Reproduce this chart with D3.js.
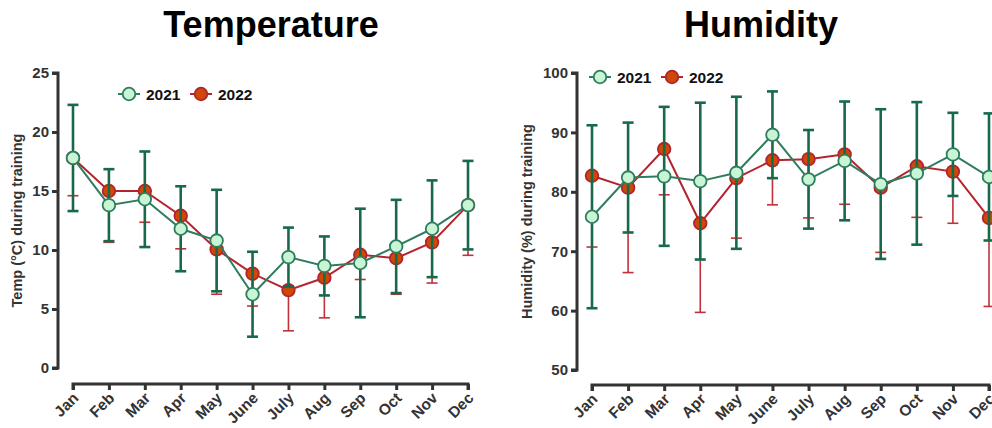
<!DOCTYPE html>
<html>
<head>
<meta charset="utf-8">
<script src="https://cdn.jsdelivr.net/npm/d3@7"></script>
<style>
  html, body { margin: 0; padding: 0; background: #fff; }
  svg { display: block; font-family: Arial, "Liberation Sans", sans-serif; }
</style>
</head>
<body>
<svg id="chart" width="992" height="428"></svg>
<script>
// Monthly conditions during training, mean and SD per month
const months = ["Jan","Feb","Mar","Apr","May","June","July","Aug","Sep","Oct","Nov","Dec"];
const years = ["2021", "2022"];

const temp2021Mean = [17.8, 13.8, 14.3, 11.8, 10.8, 6.25, 9.4, 8.65, 8.9, 10.3, 11.8, 13.8];
const temp2021SD   = [4.5, 3.05, 4.05, 3.6, 4.3, 3.6, 2.5, 2.5, 4.6, 3.95, 4.1, 3.75];
const temp2022Mean = [17.8, 15.0, 15.0, 12.9, 10.05, 8.0, 6.6, 7.65, 9.6, 9.3, 10.65, 13.8];
const temp2022SD   = [3.2, 4.35, 2.65, 2.8, 3.8, 2.75, 3.45, 3.4, 2.1, 3.05, 3.45, 4.25];

const hum2021Mean = [75.8, 82.4, 82.6, 81.8, 83.2, 89.6, 82.1, 85.2, 81.3, 83.1, 86.3, 82.5];
const hum2021SD   = [15.4, 9.25, 11.7, 13.2, 12.8, 7.3, 8.3, 10.0, 12.6, 12.0, 7.0, 10.7];
const hum2022Mean = [82.7, 80.7, 87.2, 74.7, 82.3, 85.3, 85.5, 86.3, 80.7, 84.3, 83.4, 75.6];
const hum2022SD   = [12.0, 14.3, 7.7, 15.0, 10.1, 7.5, 9.9, 8.4, 10.9, 8.6, 8.7, 14.9];

const tempTicks = [0, 5, 10, 15, 20, 25];
const humTicks = [50, 60, 70, 80, 90, 100];

const style = {
  green: { line: "#2f7d5f", bar: "#17694a", fill: "#c8f5d3", stroke: "#2f7d5f", barWidth: 2.6 },
  red:   { line: "#b3242e", bar: "#c0313b", fill: "#cc4a06", stroke: "#b3242e", barWidth: 1.6 }
};
const axisColor = "#333";
const svg = d3.select("#chart");

function panel(cfg) {
  const g = svg.append("g");
  const x = d3.scalePoint().domain(months).range(cfg.xRange);
  const y = d3.scaleLinear().domain(cfg.yDomain).range(cfg.yRange);

  // Title
  g.append("text")
    .attr("x", cfg.titleX).attr("y", 37)
    .attr("text-anchor", "middle")
    .attr("font-size", 36).attr("font-weight", "bold")
    .attr("fill", "#000")
    .text(cfg.title);

  // Y axis
  const yAxis = g.append("g")
    .attr("transform", `translate(${cfg.yAxisX},0)`)
    .call(d3.axisLeft(y).tickValues(cfg.ticks).tickSize(6).tickPadding(3));
  // X axis, offset below the plot
  const xAxis = g.append("g")
    .attr("transform", `translate(0,${cfg.xAxisY})`)
    .call(d3.axisBottom(x).tickSize(6).tickPadding(4));

  [yAxis, xAxis].forEach(a => {
    a.select(".domain").attr("stroke", axisColor).attr("stroke-width", 3);
    a.selectAll(".tick line").attr("stroke", axisColor).attr("stroke-width", 3);
    a.selectAll(".tick text")
      .attr("fill", axisColor).attr("font-size", 15).attr("font-weight", "bold");
  });
  yAxis.select(".domain").attr("d", `M-6,${y(cfg.yDomain[1])}H0V${y(cfg.yDomain[0])}H-6`);
  xAxis.select(".domain").attr("d", `M${cfg.xRange[0]},6V0H${cfg.xRange[1]}V6`);
  xAxis.selectAll(".tick text")
    .attr("font-size", 15.5)
    .attr("text-anchor", "end")
    .attr("dy", null)
    .attr("transform", "translate(6,15) rotate(-45)")
    .attr("y", 0).attr("x", 0);

  // Y axis title
  g.append("text")
    .attr("transform", `translate(${cfg.yLabelX},${(cfg.yRange[0] + cfg.yRange[1]) / 2}) rotate(-90)`)
    .attr("text-anchor", "middle")
    .attr("font-size", 14.5).attr("font-weight", "bold")
    .attr("fill", axisColor)
    .text(cfg.yLabel);

  const line = d3.line().x((d, i) => x(months[i])).y(d => y(d));
  const capHalf = 5.5;

  function errorBars(means, sds, st, both) {
    const eg = g.append("g").attr("stroke", st.bar).attr("stroke-width", st.barWidth);
    means.forEach((m, i) => {
      const cx = x(months[i]);
      const lo = y(m - sds[i]);
      const hi = both ? y(m + sds[i]) : y(m);
      eg.append("line").attr("x1", cx).attr("x2", cx).attr("y1", hi).attr("y2", lo);
      eg.append("line").attr("x1", cx - capHalf).attr("x2", cx + capHalf).attr("y1", lo).attr("y2", lo);
      if (both) eg.append("line").attr("x1", cx - capHalf).attr("x2", cx + capHalf).attr("y1", hi).attr("y2", hi);
    });
  }
  function series(means, st) {
    g.append("path").datum(means).attr("d", line)
      .attr("fill", "none").attr("stroke", st.line).attr("stroke-width", 2);
    g.append("g").selectAll("circle").data(means).join("circle")
      .attr("cx", (d, i) => x(months[i])).attr("cy", d => y(d)).attr("r", 6.3)
      .attr("fill", st.fill).attr("stroke", st.stroke).attr("stroke-width", 1.8);
  }

  // 2022 below-only error bars, then 2021 full error bars on top
  errorBars(cfg.m2022, cfg.s2022, style.red, false);
  series(cfg.m2022, style.red);
  errorBars(cfg.m2021, cfg.s2021, style.green, true);
  series(cfg.m2021, style.green);

  // Legend
  const lg = g.append("g");
  const items = [
    { name: years[0], st: style.green, x: cfg.legend[0] },
    { name: years[1], st: style.red, x: cfg.legend[0] + cfg.legendGap }
  ];
  items.forEach(it => {
    lg.append("line")
      .attr("x1", it.x - 11).attr("x2", it.x + 11)
      .attr("y1", cfg.legend[1]).attr("y2", cfg.legend[1])
      .attr("stroke", it.st.line).attr("stroke-width", 2);
    lg.append("circle")
      .attr("cx", it.x).attr("cy", cfg.legend[1]).attr("r", 6.3)
      .attr("fill", it.st.fill).attr("stroke", it.st.stroke).attr("stroke-width", 1.8);
    lg.append("text")
      .attr("x", it.x + 17).attr("y", cfg.legend[1] + 5.5)
      .attr("font-size", 15.5).attr("font-weight", "bold").attr("fill", "#111")
      .text(it.name);
  });
}

panel({
  title: "Temperature", titleX: 271,
  xRange: [73, 468], yDomain: [0, 25], yRange: [368, 73],
  yAxisX: 58, xAxisY: 384, yLabelX: 22, yLabel: "Temp (°C) during training",
  ticks: tempTicks,
  m2021: temp2021Mean, s2021: temp2021SD, m2022: temp2022Mean, s2022: temp2022SD,
  legend: [129, 94], legendGap: 72
});

panel({
  title: "Humidity", titleX: 761,
  xRange: [592, 989], yDomain: [50, 100], yRange: [370, 73],
  yAxisX: 577, xAxisY: 385, yLabelX: 532, yLabel: "Humidity (%) during training",
  ticks: humTicks,
  m2021: hum2021Mean, s2021: hum2021SD, m2022: hum2022Mean, s2022: hum2022SD,
  legend: [600, 77], legendGap: 72
});
</script>
</body>
</html>
